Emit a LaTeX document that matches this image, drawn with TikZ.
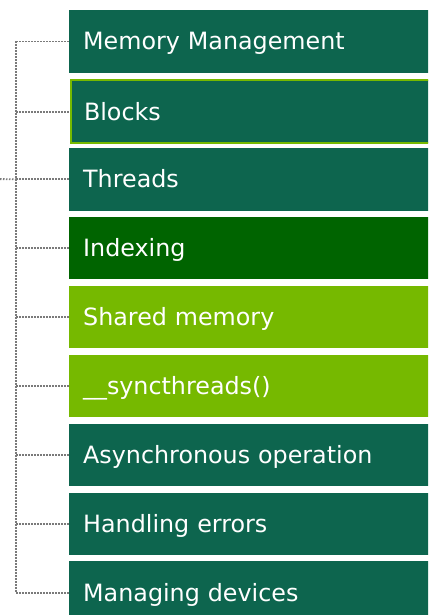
\documentclass[tikz,border=0pt]{standalone}
\usepackage{fontspec}
\setmainfont{DejaVu Sans}
\definecolor{teal}{HTML}{0D654E}
\definecolor{dgreen}{HTML}{006400}
\definecolor{lgreen}{HTML}{76B900}
\definecolor{dotgray}{HTML}{7A7A7A}
\begin{document}
\begin{tikzpicture}[x=1pt,y=-1pt,
  itembox/.style={anchor=north west, minimum height=62.5pt, text width=342pt, align=left,
    inner xsep=14pt, inner ysep=0pt, text height=17pt, text depth=0pt, text=white,
    font=\fontsize{23.8}{28}\selectfont, draw=none},
  dotline/.style={draw=dotgray, line width=1.8pt, dash pattern=on 1.5pt off 1.5pt}]
\useasboundingbox (0,0) rectangle (428,615);
\clip (0,0) rectangle (428,615);
\node[itembox, fill=teal]   (b1) at (69,10.0)  {Memory Management};
\node[itembox, fill=teal, draw=lgreen, line width=2pt] (b2) at (70,79.4) {\hspace*{-1pt}Blocks};
\node[itembox, fill=teal]   (b3) at (69,147.8) {Threads};
\node[itembox, fill=dgreen] (b4) at (69,216.7) {Indexing};
\node[itembox, fill=lgreen] (b5) at (69,285.6) {Shared memory};
\node[itembox, fill=lgreen] (b6) at (69,354.5) {\_\_syncthreads()};
\node[itembox, fill=teal]   (b7) at (69,423.4) {Asynchronous operation};
\node[itembox, fill=teal]   (b8) at (69,492.3) {Handling errors};
\node[itembox, fill=teal]   (b9) at (69,561.2) {Managing devices};
\coordinate (spine) at (16,0);
\coordinate (in) at (0,179.1);
\draw[dotline] (b1.west -| spine) -- (b9.west -| spine);
\foreach \i in {1,...,9} {
  \draw[dotline] (b\i.west -| spine) -- (b\i.west);
}
\draw[dotline] (in) -- (b3.west -| spine);
\end{tikzpicture}
\end{document}
